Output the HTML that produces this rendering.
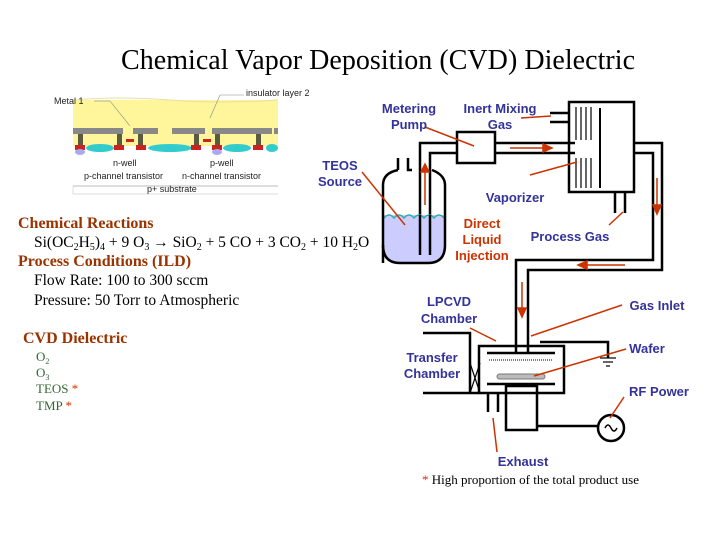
<!DOCTYPE html>
<html><head><style>
body{margin:0;background:#fff;}
svg{display:block;}
.s{font-family:"Liberation Sans",sans-serif;font-weight:bold;font-size:13px;fill:#333399;}
.r{font-family:"Liberation Sans",sans-serif;font-weight:bold;font-size:13px;fill:#cc3300;}
.t{font-family:"Liberation Serif",serif;font-size:15.5px;fill:#000;}
.b{font-family:"Liberation Serif",serif;font-size:16px;font-weight:bold;fill:#993300;}
.g{font-family:"Liberation Serif",serif;font-size:13px;fill:#336633;}
.sm{font-family:"Liberation Sans",sans-serif;font-size:9px;fill:#222;}
</style></head><body>
<svg width="720" height="540" viewBox="0 0 720 540" xmlns="http://www.w3.org/2000/svg">
<text x="378" y="69" text-anchor="middle" style="font-family:'Liberation Serif',serif;font-size:28px;" textLength="514">Chemical Vapor Deposition (CVD) Dielectric</text>

<!-- cross section image -->
<g>
<rect x="73" y="100" width="205" height="46" fill="#fff59a"/>
<path d="M73 100 Q120 96 170 100 T278 100" fill="none" stroke="#e8e0a0"/>
<rect x="73" y="128" width="50" height="6" fill="#888"/>
<rect x="133" y="128" width="25" height="6" fill="#888"/>
<rect x="172" y="128" width="33" height="6" fill="#888"/>
<rect x="212" y="128" width="60" height="6" fill="#888"/>
<rect x="274" y="128" width="4" height="6" fill="#888"/>
<g fill="#5a5a40">
<rect x="78" y="134" width="5" height="12"/><rect x="117" y="134" width="5" height="12"/><rect x="138" y="134" width="5" height="12"/>
<rect x="194" y="134" width="5" height="12"/><rect x="215" y="134" width="5" height="12"/><rect x="256" y="134" width="5" height="12"/>
</g>
<g fill="#33cccc">
<ellipse cx="100" cy="148" rx="14" ry="4"/><ellipse cx="170" cy="148" rx="22" ry="4"/><ellipse cx="237" cy="148" rx="14" ry="4"/><ellipse cx="272" cy="148" rx="6" ry="4"/>
</g>
<g fill="#cc2222">
<rect x="75" y="145" width="10" height="5"/><rect x="114" y="145" width="10" height="5"/><rect x="136" y="145" width="10" height="5"/>
<rect x="191" y="145" width="10" height="5"/><rect x="212" y="145" width="10" height="5"/><rect x="253" y="145" width="10" height="5"/>
<rect x="126" y="139" width="8" height="3"/><rect x="203" y="139" width="8" height="3"/>
</g>
<g fill="#aaaaee"><ellipse cx="80" cy="152" rx="5" ry="3"/><ellipse cx="217" cy="152" rx="5" ry="3"/></g>
<line x1="73" y1="186" x2="278" y2="186" stroke="#bbb"/>
<line x1="73" y1="194" x2="278" y2="194" stroke="#ddd"/>
<line x1="73" y1="186" x2="73" y2="194" stroke="#ddd"/>
<text x="54" y="104" class="sm">Metal 1</text>
<line x1="94" y1="101" x2="110" y2="101" stroke="#888" stroke-width="0.6"/>
<line x1="110" y1="101" x2="130" y2="126" stroke="#888" stroke-width="0.6"/>
<text x="246" y="96" class="sm">insulator layer 2</text>
<line x1="220" y1="95" x2="244" y2="95" stroke="#888" stroke-width="0.6"/>
<line x1="220" y1="95" x2="210" y2="118" stroke="#888" stroke-width="0.6"/>
<text x="113" y="166" class="sm">n-well</text>
<text x="210" y="166" class="sm">p-well</text>
<text x="84" y="179" class="sm">p-channel transistor</text>
<text x="182" y="179" class="sm">n-channel transistor</text>
<text x="147" y="192" class="sm">p+ substrate</text>
</g>

<!-- left text -->
<text x="18" y="228" class="b">Chemical Reactions</text>
<text x="34" y="247" class="t">Si(OC<tspan font-size="10" dy="3">2</tspan><tspan dy="-3">H</tspan><tspan font-size="10" dy="3">5</tspan><tspan dy="-3">)</tspan><tspan font-size="10" dy="3">4</tspan><tspan dy="-3"> + 9 O</tspan><tspan font-size="10" dy="3">3</tspan><tspan dy="-3"> → SiO</tspan><tspan font-size="10" dy="3">2</tspan><tspan dy="-3"> + 5 CO + 3 CO</tspan><tspan font-size="10" dy="3">2</tspan><tspan dy="-3"> + 10 H</tspan><tspan font-size="10" dy="3">2</tspan><tspan dy="-3">O</tspan></text>
<text x="18" y="266" class="b">Process Conditions (ILD)</text>
<text x="34" y="285" class="t">Flow Rate:  100 to 300 sccm</text>
<text x="34" y="305" class="t">Pressure:  50 Torr to Atmospheric</text>
<text x="23" y="343" class="b">CVD Dielectric</text>
<text x="36" y="361" class="g">O<tspan font-size="8" dy="3">2</tspan></text>
<text x="36" y="377" class="g">O<tspan font-size="8" dy="3">3</tspan></text>
<text x="36" y="393" class="g">TEOS <tspan fill="#cc3300">*</tspan></text>
<text x="36" y="410" class="g">TMP <tspan fill="#cc3300">*</tspan></text>

<!-- diagram -->
<g fill="none" stroke="#000" stroke-width="2.5">
<path d="M398 170 L398 158 M408 158 L408 170 L412 170" />
<path d="M420 255 L420 143 L457 143"/>
<path d="M430 255 L430 153 L457 153"/>
<rect x="457" y="132" width="38" height="31"/>
<path d="M495 143 L575 143 M495 153 L575 153"/>
<rect x="569" y="102" width="65" height="90"/>
<path d="M550 113 L569 113 M550 122 L569 122"/>
<line x1="600" y1="108" x2="600" y2="188" stroke-width="2"/>
<path d="M615 192 L615 213 M625 192 L625 213"/>
<path d="M634 143 L662 143 L662 270 L528 270 L528 353"/>
<path d="M634 153 L653 153 L653 260 L516 260 L516 353"/>
<rect x="479" y="346" width="85" height="47"/>
<path d="M487 353 L555 353 M487 384 L555 384"/>
<rect x="506" y="386" width="31" height="44"/>
<path d="M488 393 L488 412 M498 393 L498 412"/>
<path d="M423 333 L470 333 L470 393 M423 393 L479 393"/>
<path d="M540 342 L608 342 L608 358"/>
<path d="M537 426 L598 426"/>
<circle cx="611" cy="428" r="13"/>
</g>
<g stroke="#000" stroke-width="1.2">
<line x1="576" y1="107" x2="576" y2="140"/><line x1="581" y1="107" x2="581" y2="140"/><line x1="586" y1="107" x2="586" y2="140"/><line x1="591" y1="107" x2="591" y2="140"/>
<line x1="576" y1="158" x2="576" y2="188"/><line x1="581" y1="158" x2="581" y2="188"/><line x1="586" y1="158" x2="586" y2="188"/><line x1="591" y1="158" x2="591" y2="188"/>
<line x1="600" y1="358" x2="616" y2="358"/><line x1="603" y1="362" x2="613" y2="362"/><line x1="606" y1="366" x2="610" y2="366"/>
<line x1="470" y1="363" x2="480" y2="393"/><line x1="480" y1="363" x2="470" y2="393"/>
</g>
<line x1="489" y1="360" x2="553" y2="360" stroke="#000" stroke-dasharray="1,1"/>
<rect x="497" y="374" width="48" height="5" rx="2.5" fill="#bbb" stroke="#777"/>
<path d="M605 428 Q608 422 611 428 T617 428" fill="none" stroke="#000" stroke-width="1.5"/>
<path d="M384 215 L444 215 L444 245 Q444 262 428 262 L400 262 Q384 262 384 245 Z" fill="#ccccff"/>
<path d="M384 218 q5 -6 10 0 q5 -6 10 0 q5 -6 10 0 q5 -6 10 0 q5 -6 10 0 q5 -6 10 0" fill="none" stroke="#33aaaa" stroke-width="1.5"/>
<path d="M383 263 L383 185 Q383 173 398 170 M445 245 L445 185 Q445 175 432 170" fill="none" stroke="#000" stroke-width="2.5"/>
<path d="M383 245 Q383 263 400 263 L428 263 Q445 263 445 245" fill="none" stroke="#000" stroke-width="2.5"/>
<path d="M420 215 L420 255 M430 215 L430 255" stroke="#000" stroke-width="2.5"/>

<g stroke="#cc3300" stroke-width="1.5" fill="#cc3300">
<line x1="362" y1="172" x2="405" y2="225"/>
<line x1="425" y1="127" x2="474" y2="146"/>
<line x1="521" y1="118" x2="551" y2="116"/>
<line x1="530" y1="175" x2="577" y2="162"/>
<line x1="609" y1="225" x2="623" y2="212"/>
<line x1="425" y1="205" x2="425" y2="170"/><path d="M421 172 L425 164 L429 172Z"/>
<line x1="510" y1="148" x2="545" y2="148"/><path d="M543 144 L552 148 L543 152Z"/>
<line x1="657" y1="178" x2="657" y2="207"/><path d="M653 205 L657 214 L661 205Z"/>
<line x1="625" y1="265" x2="585" y2="265"/><path d="M587 261 L578 265 L587 269Z"/>
<line x1="522" y1="282" x2="522" y2="310"/><path d="M518 308 L522 317 L526 308Z"/>
<line x1="470" y1="328" x2="496" y2="341"/>
<line x1="531" y1="336" x2="622" y2="305"/>
<line x1="534" y1="376" x2="626" y2="349"/>
<line x1="610" y1="418" x2="624" y2="397"/>
<line x1="493" y1="418" x2="497" y2="452"/>
</g>

<text x="409" y="113" class="s" text-anchor="middle">Metering</text>
<text x="409" y="129" class="s" text-anchor="middle">Pump</text>
<text x="500" y="113" class="s" text-anchor="middle">Inert Mixing</text>
<text x="500" y="129" class="s" text-anchor="middle">Gas</text>
<text x="340" y="170" class="s" text-anchor="middle">TEOS</text>
<text x="340" y="186" class="s" text-anchor="middle">Source</text>
<text x="515" y="202" class="s" text-anchor="middle">Vaporizer</text>
<text x="482" y="228" class="r" text-anchor="middle">Direct</text>
<text x="482" y="244" class="r" text-anchor="middle">Liquid</text>
<text x="482" y="260" class="r" text-anchor="middle">Injection</text>
<text x="570" y="241" class="s" text-anchor="middle">Process Gas</text>
<text x="449" y="306" class="s" text-anchor="middle">LPCVD</text>
<text x="449" y="323" class="s" text-anchor="middle">Chamber</text>
<text x="657" y="310" class="s" text-anchor="middle">Gas Inlet</text>
<text x="432" y="362" class="s" text-anchor="middle">Transfer</text>
<text x="432" y="378" class="s" text-anchor="middle">Chamber</text>
<text x="647" y="353" class="s" text-anchor="middle">Wafer</text>
<text x="659" y="396" class="s" text-anchor="middle">RF Power</text>
<text x="523" y="466" class="s" text-anchor="middle">Exhaust</text>
<text x="422" y="484" style="font-family:'Liberation Serif',serif;font-size:13px;"><tspan fill="#cc3300">*</tspan> High proportion of the total product use</text>
</svg>
</body></html>
